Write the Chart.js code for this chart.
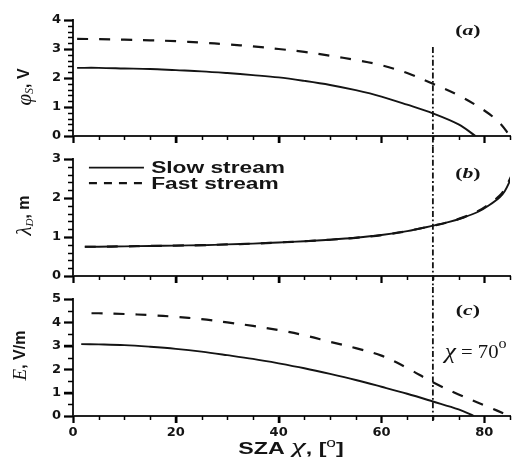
<!DOCTYPE html>
<html><head><meta charset="utf-8">
<script src="https://cdn.jsdelivr.net/npm/chart.js@4.4.0/dist/chart.umd.min.js"></script>
<style>
html,body{margin:0;padding:0;background:#fff;}
#wrap{position:relative;width:523px;height:457px;}
#wrap canvas{position:absolute;left:0;}
</style></head>
<body><div id="wrap">
<canvas id="ca" width="523" height="147" style="top:0px"></canvas>
<canvas id="cb" width="523" height="140" style="top:147px"></canvas>
<canvas id="cc" width="523" height="170" style="top:287px"></canvas>
</div>
<script>
// ---- data ----
const xTicks = [0, 20, 40, 60, 80];
const markerAngle = 70;
const seriesNames = ['Slow stream', 'Fast stream'];

const slowPhiX = [0.8,5,10,15,20,25,30,35,40,45,50,55,60,65,70,75,78.3];
const slowPhi  = [2.35,2.35,2.33,2.31,2.27,2.23,2.17,2.10,2.02,1.90,1.76,1.58,1.36,1.08,0.78,0.40,0];
const fastPhiX = [0.8,5,10,15,20,25,30,35,40,45,50,55,60,65,70,75,80,83,85];
const fastPhi  = [3.35,3.34,3.32,3.30,3.27,3.22,3.16,3.09,3.00,2.90,2.77,2.62,2.44,2.17,1.80,1.40,0.88,0.45,0];

const slowLamX = [2.3,5,10,15,20,25,30,35,40,45,50,55,60,65,70,73,76,79,81,83,84,85.2];
const slowLam  = [0.75,0.75,0.76,0.77,0.78,0.79,0.81,0.83,0.86,0.89,0.93,0.98,1.05,1.15,1.29,1.38,1.50,1.66,1.82,2.02,2.18,2.50];
const fastLamX = [2.3,5,10,15,20,25,30,35,40,45,50,55,60,65,70,73,76,79,81,83,84,85.2];
const fastLam  = [0.75,0.75,0.76,0.77,0.78,0.79,0.81,0.83,0.86,0.89,0.93,0.98,1.05,1.15,1.29,1.38,1.51,1.68,1.85,2.06,2.23,2.55];

const slowEX = [1.6,5,10,15,20,25,30,35,40,45,50,55,60,65,70,75,78];
const slowE  = [3.07,3.06,3.03,2.96,2.87,2.75,2.60,2.44,2.25,2.04,1.80,1.54,1.25,0.95,0.62,0.28,0];
const fastEX = [3.6,5,10,15,20,25,30,35,40,45,50,55,60,65,70,75,80,85];
const fastE  = [4.39,4.39,4.36,4.31,4.24,4.14,4.00,3.85,3.67,3.45,3.17,2.90,2.58,2.05,1.44,0.92,0.46,0];

// ---- helpers ----
const INK = '#141414';
const SANS = '"Liberation Sans", Arial, sans-serif';
const WIDE = '"DejaVu Sans", "Liberation Sans", sans-serif';
const SERIF = '"Liberation Serif", "Times New Roman", serif';
const pts = (xs, ys) => xs.map((x, i) => ({x, y: ys[i]}));

function drawRuns(ctx, runs, x, y, align, sx) {
  sx = sx || 1;
  let w = 0;
  runs.forEach(r => { ctx.font = r.font; w += ctx.measureText(r.t).width * sx; });
  let cx = align === 'center' ? x - w / 2 : x;
  runs.forEach(r => {
    ctx.font = r.font;
    ctx.save(); ctx.translate(cx, y + (r.dy || 0)); ctx.scale(sx, 1);
    ctx.fillText(r.t, 0, 0);
    ctx.restore();
    cx += ctx.measureText(r.t).width * sx;
  });
}

const decor = {
  id: 'decor',
  afterDraw(chart, args, o) {
    const {ctx, scales: {x, y}, chartArea} = chart;
    // tick marks (major + minor), outward
    ctx.save();
    ctx.strokeStyle = '#000';
    for (let v = 0; v <= 85; v += 5) {
      const major = v % 20 === 0;
      const px = Math.round(x.getPixelForValue(v)) + 0.5;
      ctx.lineWidth = major ? 2 : 1.5;
      ctx.beginPath();
      ctx.moveTo(px, chartArea.bottom); ctx.lineTo(px, chartArea.bottom + (major ? 7 : 4));
      ctx.stroke();
    }
    const n = Math.round(y.max / o.yStep);
    for (let k = 0; k <= n; k++) {
      const v = k * o.yStep;
      const major = Math.abs(v - Math.round(v)) < 1e-6;
      const py = Math.round(y.getPixelForValue(v)) + 0.5;
      ctx.lineWidth = major ? 2 : 1.5;
      ctx.beginPath();
      ctx.moveTo(chartArea.left, py); ctx.lineTo(chartArea.left - (major ? 9 : 5), py);
      ctx.stroke();
    }
    ctx.restore();

    // vertical dash-dot marker at chi = 70
    ctx.save();
    ctx.strokeStyle = INK; ctx.lineWidth = 1.8;
    ctx.setLineDash([6, 2.5, 1.8, 2.5]);
    const px = x.getPixelForValue(markerAngle);
    const top = o.vFrom == null ? 0 : y.getPixelForValue(o.vFrom);
    const bottom = o.vToAxis ? chartArea.bottom + 6 : chart.height;
    ctx.beginPath(); ctx.moveTo(px, top); ctx.lineTo(px, bottom); ctx.stroke();
    ctx.restore();

    // panel letter
    ctx.save();
    ctx.fillStyle = INK;
    ctx.textBaseline = 'middle';
    drawRuns(ctx, [
      {t: '(', font: 'bold 15px ' + SERIF},
      {t: o.letter, font: 'bold italic 15px ' + SERIF},
      {t: ')', font: 'bold 15px ' + SERIF}
    ], x.getPixelForValue(76.8), y.getPixelForValue(o.letterY), 'center', 1.45);
    ctx.restore();

    // y-axis title (rotated)
    ctx.save();
    ctx.fillStyle = INK;
    ctx.translate(o.titleX, (chartArea.top + chartArea.bottom) / 2 + o.titleShift);
    ctx.rotate(-Math.PI / 2);
    ctx.textBaseline = 'middle';
    drawRuns(ctx, o.titleRuns, 0, 0, 'center', 1);
    ctx.restore();

    if (o.legend) {
      ctx.save();
      ctx.strokeStyle = INK; ctx.fillStyle = INK;
      chart.data.datasets.forEach((ds, i) => {
        const yy = y.getPixelForValue(o.legendY[i]);
        ctx.lineWidth = ds.borderWidth;
        ctx.setLineDash(ds.borderDash ? [8, 7] : []);
        ctx.beginPath();
        ctx.moveTo(x.getPixelForValue(3.1), yy);
        ctx.lineTo(x.getPixelForValue(13.8), yy);
        ctx.stroke();
        ctx.setLineDash([]);
        ctx.textBaseline = 'middle';
        drawRuns(ctx, [{t: ds.label, font: 'bold 16px ' + SANS}], x.getPixelForValue(15.2), yy + 1, 'left', 1.42);
      });
      ctx.restore();
    }

    if (o.bottomTexts) {
      ctx.save();
      ctx.fillStyle = INK; ctx.textBaseline = 'alphabetic';
      drawRuns(ctx, [
        {t: 'χ', font: 'italic 22px ' + SERIF},
        {t: ' = 70', font: '18px ' + SERIF},
        {t: 'o', font: '14px ' + SERIF, dy: -10}
      ], x.getPixelForValue(72.3), y.getPixelForValue(2.95) + 11, 'left', 1.15);
      drawRuns(ctx, [
        {t: 'SZA ', font: 'bold 16px ' + SANS},
        {t: 'χ', font: 'italic 23px ' + SERIF},
        {t: ', [', font: 'bold 16px ' + SANS},
        {t: 'o', font: '12px ' + SANS, dy: -7},
        {t: ']', font: 'bold 16px ' + SANS}
      ], 291, chart.height - 3, 'center', 1.45);
      ctx.restore();
    }
  }
};

function makeChart(id, datasets, yMax, box, showX, decorOpts) {
  return new Chart(document.getElementById(id), {
    type: 'line',
    data: {datasets},
    options: {
      responsive: false, animation: false, events: [],
      layout: {padding: {top: box.top, right: 13, left: 0, bottom: 0}},
      plugins: {legend: {display: false}, tooltip: {enabled: false}, decor: decorOpts},
      elements: {point: {radius: 0}, line: {tension: 0.35}},
      scales: {
        x: {
          type: 'linear', min: 0, max: 85,
          afterBuildTicks: s => { s.ticks = xTicks.map(v => ({value: v})); },
          afterFit: s => { s.height = box.axisH; },
          ticks: {display: showX, color: INK, font: {family: WIDE, size: 13, weight: 'bold'}, padding: 2, maxRotation: 0},
          grid: {display: true, drawOnChartArea: false, drawTicks: true, tickLength: 7, tickWidth: 1.5, tickColor: '#000'},
          border: {display: true, color: '#222', width: 2}
        },
        y: {
          min: 0, max: yMax,
          afterFit: s => { s.width = 73; },
          ticks: {stepSize: 1, color: INK, font: {family: WIDE, size: 13, weight: 'bold'}, padding: 3},
          grid: {display: true, drawOnChartArea: false, drawTicks: true, tickLength: 9, tickWidth: 1.5, tickColor: '#000'},
          border: {display: true, color: '#222', width: 2}
        }
      }
    },
    plugins: [decor]
  });
}

const solid = (label, data) => ({label, data, borderColor: INK, borderWidth: 1.9, fill: false});
const dashed = (label, data) => ({label, data, borderColor: INK, borderWidth: 2.2, borderDash: [11, 11], fill: false});

makeChart('ca', [
  solid(seriesNames[0], pts(slowPhiX, slowPhi)),
  dashed(seriesNames[1], pts(fastPhiX, fastPhi))
], 4, {top: 20, axisH: 11}, false, {
  yStep: 0.2, vFrom: 3.07, letter: 'a', letterY: 3.6, titleX: 25, titleShift: 9, titleRuns: [
    {t: 'φ', font: 'italic 21px ' + SERIF},
    {t: 'S', font: 'italic 12px ' + SERIF, dy: 5},
    {t: ', V', font: 'bold 16px ' + SANS}
  ]
});

makeChart('cb', [
  solid(seriesNames[0], pts(slowLamX, slowLam)),
  dashed(seriesNames[1], pts(fastLamX, fastLam))
], 3, {top: 12, axisH: 11}, false, {
  yStep: 0.2, letter: 'b', letterY: 2.6, titleX: 25, titleShift: -2, legend: true, legendY: [2.78, 2.38], titleRuns: [
    {t: 'λ', font: 'italic 21px ' + SERIF},
    {t: 'D', font: 'italic 11px ' + SERIF, dy: 5},
    {t: ', m', font: 'bold 16px ' + SANS}
  ]
});

makeChart('cc', [
  solid(seriesNames[0], pts(slowEX, slowE)),
  dashed(seriesNames[1], pts(fastEX, fastE))
], 5, {top: 12, axisH: 41}, true, {
  yStep: 0.5, vToAxis: true, bottomTexts: true, letter: 'c', letterY: 4.5, titleX: 21, titleShift: -2, titleRuns: [
    {t: 'E', font: 'italic 19px ' + SERIF},
    {t: ', V/m', font: 'bold 16px ' + SANS}
  ]
});
</script>
</body></html>
